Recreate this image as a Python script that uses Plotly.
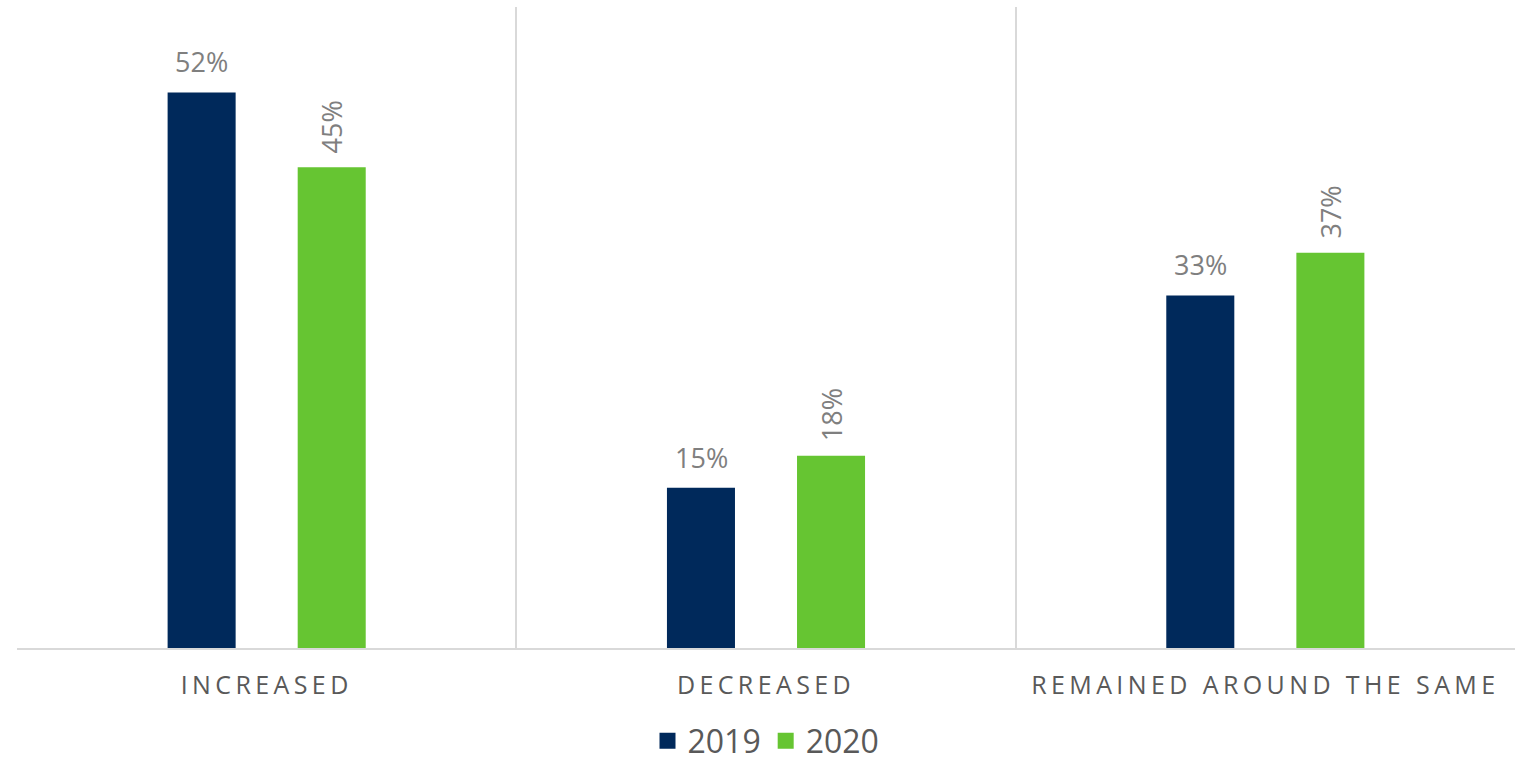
import plotly.graph_objects as go

categories = ["INCREASED", "DECREASED", "REMAINED AROUND THE SAME"]
years = ["2019", "2020"]
values_2019 = [52, 15, 33]
values_2020 = [45, 18, 37]

colors = {"2019": "#00295B", "2020": "#66C532"}
series = {"2019": values_2019, "2020": values_2020}

FONT = "Open Sans"
LABEL_GRAY = "#7F7F7F"
TEXT_GRAY = "#595959"
GRID = "#D9D9D9"

fig = go.Figure()

for yr in years:
    fig.add_trace(go.Bar(
        x=categories,
        y=series[yr],
        name=yr,
        marker=dict(color=colors[yr], line=dict(width=0)),
        showlegend=False,
        hoverinfo="skip",
    ))
    # legend swatch entries
    fig.add_trace(go.Scatter(
        x=[None], y=[None], mode="markers", name=yr,
        marker=dict(symbol="square", size=16, color=colors[yr]),
        showlegend=True,
    ))

# value labels: 2019 horizontal, 2020 rotated
annotations = []
for cat, v in zip(categories, values_2019):
    annotations.append(dict(
        x=cat, y=v, xref="x", yref="y", text=f"{v}%", showarrow=False,
        xshift=-65, yshift=10, yanchor="bottom", xanchor="center",
        font=dict(family=FONT, size=27, color=LABEL_GRAY),
    ))
for cat, v in zip(categories, values_2020):
    annotations.append(dict(
        x=cat, y=v, xref="x", yref="y", text=f"{v}%", showarrow=False,
        xshift=65, yshift=12, yanchor="bottom", xanchor="center",
        textangle=-90,
        font=dict(family=FONT, size=27, color=LABEL_GRAY),
    ))

tick_text = [f'<span style="letter-spacing:4.4px">{c}</span>' for c in categories]

fig.update_layout(
    width=1520, height=764,
    margin=dict(l=17, r=5, t=7, b=116, autoexpand=False),
    paper_bgcolor="white", plot_bgcolor="white",
    barmode="group", bargap=0.479, bargroupgap=0.477,
    font=dict(family=FONT, color=TEXT_GRAY),
    annotations=annotations,
    legend=dict(
        orientation="h", x=0.5, xanchor="center",
        y=-0.145, yanchor="middle",
        font=dict(family=FONT, size=32, color=TEXT_GRAY),
        itemwidth=30, tracegroupgap=0,
    ),
    xaxis=dict(
        type="category", automargin=False,
        tickmode="array", tickvals=categories, ticktext=tick_text,
        tickson="boundaries", ticks="",
        showgrid=True, gridcolor=GRID, gridwidth=2,
        showline=True, linecolor=GRID, linewidth=2,
        tickfont=dict(family=FONT, size=25, color=TEXT_GRAY),
        ticklabelstandoff=14,
    ),
    yaxis=dict(
        range=[0, 60], visible=False, showgrid=False, zeroline=False,
        automargin=False,
    ),
)

fig.write_html("out.html")
